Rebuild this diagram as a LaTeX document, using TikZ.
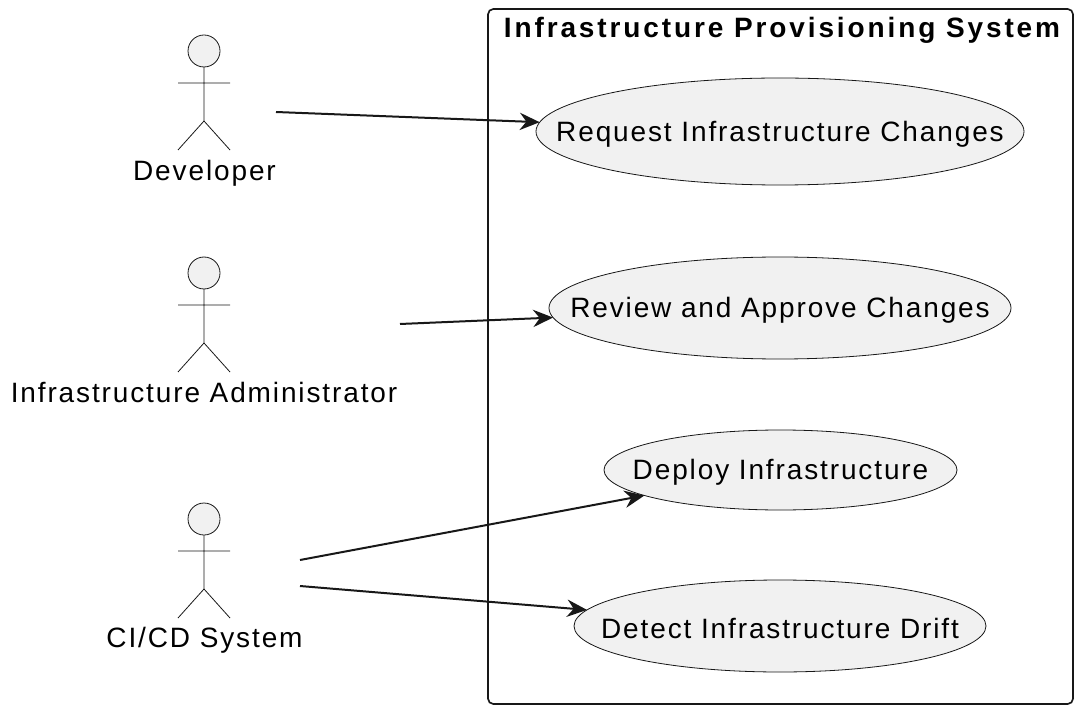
\documentclass[tikz,border=0pt]{standalone}
\usepackage{fontspec}
\setmainfont{Liberation Sans}[Kerning=Off,LetterSpace=6.7,BoldFeatures={LetterSpace=10.3}]
\usetikzlibrary{arrows.meta}
\usetikzlibrary{shapes.geometric}
\definecolor{umlfill}{HTML}{F1F1F1}
\definecolor{umlline}{HTML}{181818}
\tikzset{
	usecase/.style={draw=umlline,fill=umlfill,ellipse,inner sep=0pt,outer sep=0pt,line width=0.6pt},
	every label/.style={inner sep=0pt,yshift=-2pt,font=\fontsize{21}{25}\selectfont},
	actorname/.style={inner sep=0pt,anchor=base,font=\fontsize{21}{25}\selectfont},
	assoc/.style={draw=umlline,line width=1.5pt,-{Stealth[length=15pt,width=13pt,inset=5pt]}},
	stickman/.pic={
		\draw[umlline,line width=0.6pt,fill=umlfill] (0,0) circle (12pt);
		\draw[umlline,line width=0.6pt] (0,16) -- (0,70) (-26,32) -- (26,32) (-26,99) -- (0,70) -- (26,99);
	}
}
\begin{document}
\begin{tikzpicture}[x=0.75pt,y=-0.75pt]
	\useasboundingbox (0,0) rectangle (1084,716);
	% system boundary
	\draw[umlline,line width=1.25pt,rounded corners=4pt] (488,9) rectangle (1073,704);
	\node[inner sep=0pt,anchor=base,font=\fontsize{21}{25}\selectfont\bfseries] (systitle) at (782,38) {Infrastructure Provisioning System};
	% actors
	\pic at (204,51) {stickman};
	\pic at (204,273) {stickman};
	\pic at (204,519) {stickman};
	\node[actorname] (developer) at (204.5,180.5) {Developer};
	\node[actorname] (admin) at (204,402.5) {Infrastructure Administrator};
	\node[actorname] (cicd) at (204.5,647.5) {CI/CD System};
	% use cases
	\node[usecase,minimum width=366pt,minimum height=80.25pt,label={center:Request Infrastructure Changes}] (request) at (780,131.5) {};
	\node[usecase,minimum width=346.5pt,minimum height=76.5pt,label={center:Review and Approve Changes}] (review) at (780,308) {};
	\node[usecase,minimum width=264.75pt,minimum height=60pt,label={center:Deploy Infrastructure}] (deploy) at (780.5,470) {};
	\node[usecase,minimum width=309pt,minimum height=69pt,label={center:Detect Infrastructure Drift}] (drift) at (780,626) {};
	% free ends of the connectors
	\coordinate (devout) at (276,112);
	\coordinate (adminout) at (400,324);
	\coordinate (cicdtop) at (300,560);
	\coordinate (cicdlow) at (300,586);
	\draw[assoc] (devout) -- (request);
	\draw[assoc] (adminout) -- (review);
	\draw[assoc] (cicdtop) -- (deploy);
	\draw[assoc] (cicdlow) -- (drift);
\end{tikzpicture}
\end{document}
